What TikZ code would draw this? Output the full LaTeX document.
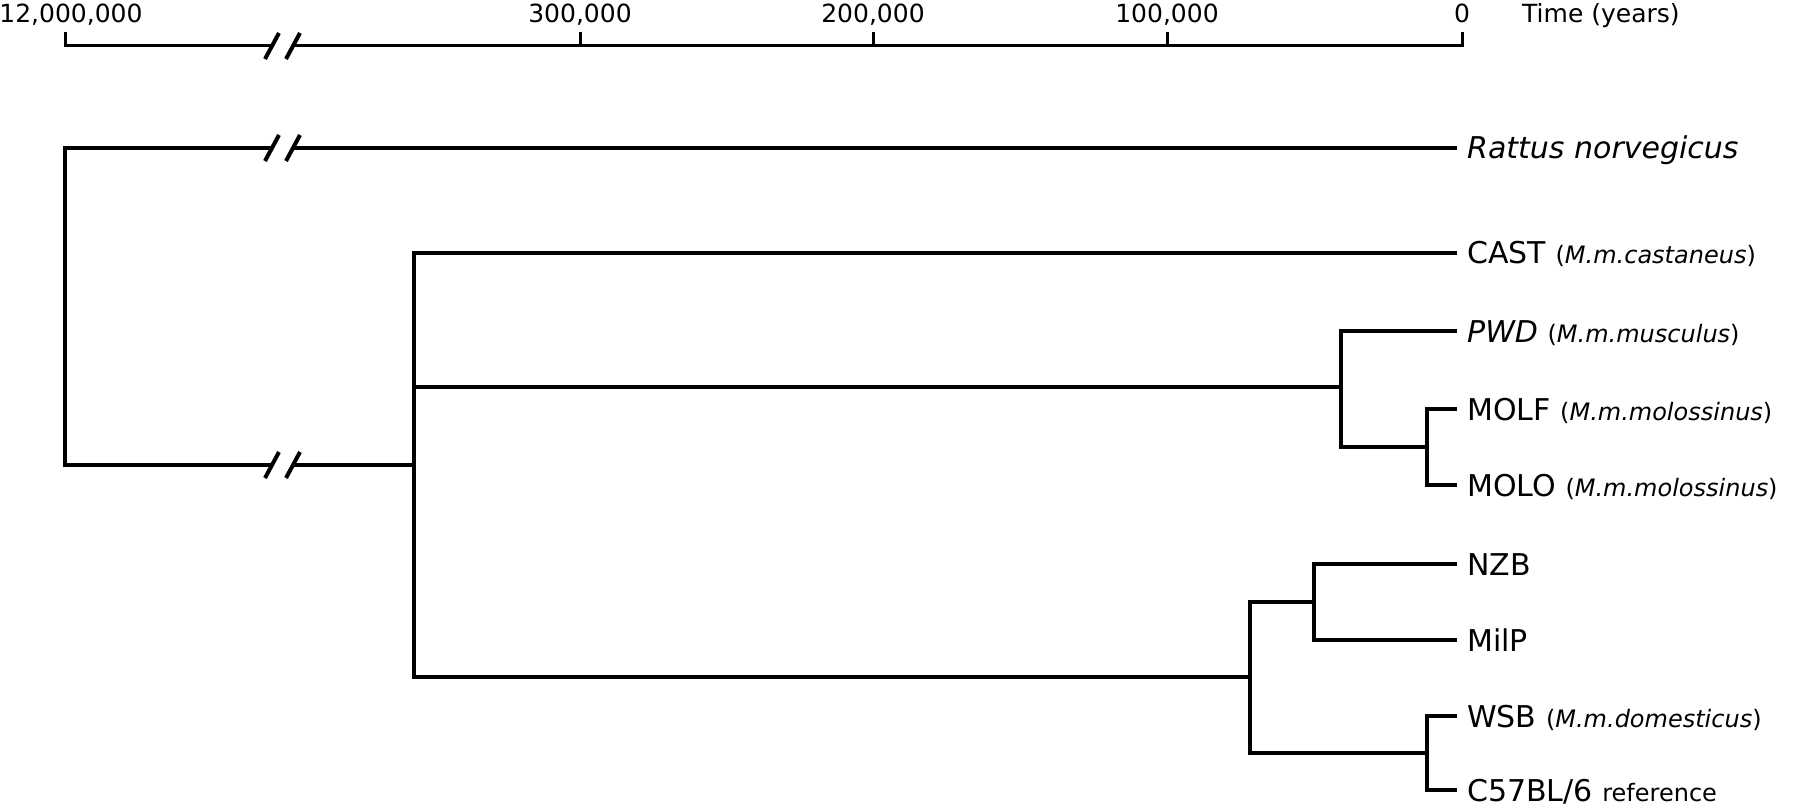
\documentclass[tikz,border=0pt]{standalone}
\usepackage{fontspec}
\setmainfont{DejaVu Sans}
\newcommand{\pn}[1]{{\fontsize{24}{28}\selectfont(\textit{#1})}}
\begin{document}
\begin{tikzpicture}[x=1pt,y=-1pt,
  tree/.style={line width=4pt, line join=miter},
  ax/.style={line width=3pt, line join=miter},
  brk/.pic={\draw[line width=4pt] (-7,13) -- (7,-13);},
  leaf/.style={anchor=west, inner xsep=10pt, inner ysep=0pt, text height=22pt, text depth=0pt, font=\fontsize{30}{36}\selectfont},
  ticklab/.style={font=\fontsize{25}{30}\selectfont, anchor=base, inner sep=0pt}
]
\useasboundingbox (0,0) rectangle (1800,805);

% ---- time axis ----
\coordinate (k12) at (65,32);   \coordinate (t12) at (65,46);
\coordinate (k300) at (580,32); \coordinate (t300) at (580,46);
\coordinate (k200) at (873,32); \coordinate (t200) at (873,46);
\coordinate (k100) at (1167,32);\coordinate (t100) at (1167,46);
\coordinate (k0) at (1462,32);  \coordinate (t0) at (1462,46);
\coordinate (ab1) at (272,46);  \coordinate (ab2) at (293,46);
\draw[ax] (k12) -- (t12) -- (ab1);
\draw[ax] (ab2) -- (t0) -- (k0);
\draw[ax] (k300) -- (t300);
\draw[ax] (k200) -- (t200);
\draw[ax] (k100) -- (t100);
\pic at (ab1) {brk};
\pic at (ab2) {brk};
\node[ticklab] (l12) at (71,23) {12,000,000};
\node[ticklab] (l300) at (580,23) {300,000};
\node[ticklab] (l200) at (873,23) {200,000};
\node[ticklab] (l100) at (1167,23) {100,000};
\node[ticklab] (l0) at (1462,23) {0};
\node[ticklab, anchor=base west] (ltime) at (1522,23) {Time (years)};

% ---- leaf labels ----
\node[leaf] (tRat) at (1457,148) {\textit{Rattus norvegicus}};
\node[leaf] (tCAST) at (1457,253) {CAST \pn{M.m.castaneus}};
\node[leaf] (tPWD) at (1457,331) {\textit{PWD} \pn{M.m.musculus}};
\node[leaf] (tMOLF) at (1457,409) {MOLF \pn{M.m.molossinus}};
\node[leaf] (tMOLO) at (1457,485) {MOLO \pn{M.m.molossinus}};
\node[leaf] (tNZB) at (1457,564) {NZB};
\node[leaf] (tMilP) at (1457,640) {MilP};
\node[leaf] (tWSB) at (1457,716) {WSB \pn{M.m.domesticus}};
\node[leaf] (tC57) at (1457,790) {C57BL/6 {\fontsize{24}{28}\selectfont reference}};

% ---- internal points ----
\coordinate (R0) at (65,148);  \coordinate (R1) at (65,465);
\coordinate (b1a) at (272,148); \coordinate (b1b) at (293,148);
\coordinate (b2a) at (272,465); \coordinate (b2b) at (293,465);
\coordinate (M) at (414,465);
\coordinate (MT) at (414,253); \coordinate (MB) at (414,677);
\coordinate (Mm) at (414,387);
\coordinate (PT) at (1341,331); \coordinate (PB) at (1341,447); \coordinate (Pm) at (1341,387);
\coordinate (QT) at (1427,409); \coordinate (QB) at (1427,485); \coordinate (Qm) at (1427,447);
\coordinate (DT) at (1250,602); \coordinate (DB) at (1250,753); \coordinate (Dm) at (1250,677);
\coordinate (NT) at (1314,564); \coordinate (NB) at (1314,640); \coordinate (Nm) at (1314,602);
\coordinate (WT) at (1427,716); \coordinate (WB) at (1427,790); \coordinate (Wm) at (1427,753);

% ---- tree ----
\draw[tree] (b1a) -- (R0) -- (R1) -- (b2a);
\draw[tree] (b1b) -- (tRat.west);
\draw[tree] (b2b) -- (M);
\pic at (b1a) {brk}; \pic at (b1b) {brk};
\pic at (b2a) {brk}; \pic at (b2b) {brk};
\draw[tree] (tCAST.west) -- (MT) -- (MB) -- (Dm);
\draw[tree] (Mm) -- (Pm);
\draw[tree] (tPWD.west) -- (PT) -- (PB) -- (Qm);
\draw[tree] (tMOLF.west) -- (QT) -- (QB) -- (tMOLO.west);
\draw[tree] (Nm) -- (DT) -- (DB) -- (Wm);
\draw[tree] (tNZB.west) -- (NT) -- (NB) -- (tMilP.west);
\draw[tree] (tWSB.west) -- (WT) -- (WB) -- (tC57.west);
\end{tikzpicture}
\end{document}
